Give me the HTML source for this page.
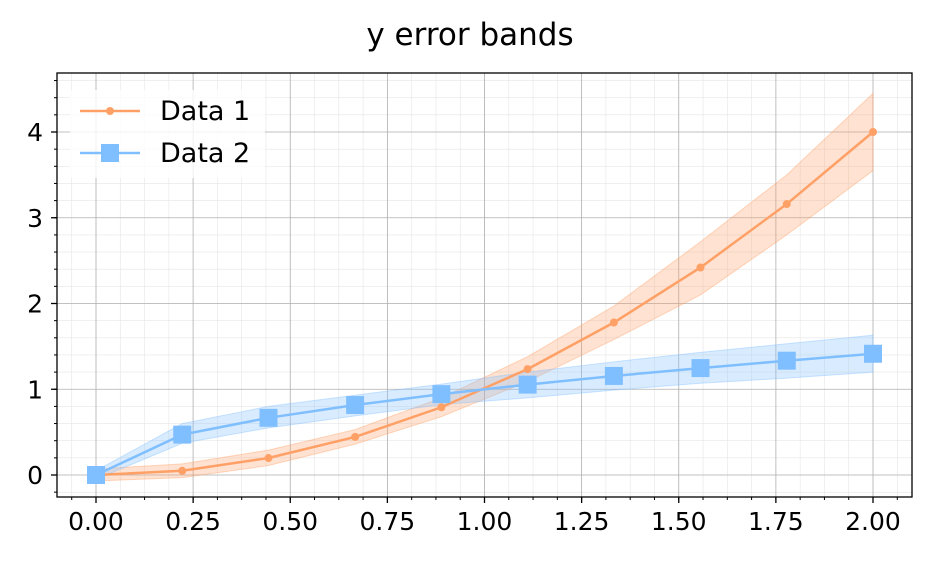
<!DOCTYPE html>
<html><head><meta charset="utf-8"><style>
body{margin:0;background:#fff;}
svg{display:block;font-family:"DejaVu Sans","Liberation Sans",sans-serif;}
</style></head><body>
<svg id="chart" width="935" height="566">
<text x="470" y="45" text-anchor="middle" font-size="31" fill="#000">y error bands</text>
<g id="grid"></g><g id="bands"></g><g id="lines"></g><g id="axes"></g>
<g id="legend">
<rect x="70" y="90" width="195" height="88" fill="#fff" opacity="0.8" rx="3"/>
<g>
<line x1="80" y1="111" x2="140" y2="111" stroke="#ffa066" stroke-width="2.5"/><circle cx="110" cy="111" r="4" fill="#ffa066"/>
<text x="160" y="120" font-size="27">Data 1</text></g>
<g>
<line x1="80" y1="153" x2="140" y2="153" stroke="#80bfff" stroke-width="2.5"/><rect x="101" y="144" width="18" height="18" fill="#80bfff"/>
<text x="160" y="162" font-size="27">Data 2</text></g>
</g>
</svg>
<script>
const xs=[0,0.222,0.444,0.667,0.889,1.111,1.333,1.556,1.778,2.0];
const data1=[0,0.049,0.198,0.444,0.790,1.235,1.778,2.420,3.160,4.0];
const data1Lo=[-0.07,-0.03,0.11,0.36,0.68,1.09,1.58,2.10,2.80,3.55];
const data1Hi=[0.07,0.13,0.29,0.53,0.90,1.38,1.97,2.72,3.50,4.45];
const data2=[0,0.471,0.667,0.816,0.943,1.054,1.155,1.247,1.333,1.414];
const data2Lo=[-0.05,0.37,0.55,0.69,0.82,0.90,0.99,1.07,1.13,1.20];
const data2Hi=[0.05,0.60,0.80,0.93,1.06,1.20,1.32,1.43,1.53,1.63];
const xTicks=[0,0.25,0.5,0.75,1,1.25,1.5,1.75,2];
const xTickLabels=["0.00","0.25","0.50","0.75","1.00","1.25","1.50","1.75","2.00"];
const yTicks=[0,1,2,3,4];
const yTickLabels=["0","1","2","3","4"];
const L=57,T=73,R=912,B=497;
const X=v=>96+v*388.5, Y=v=>475-v*85.75;
const NS="http://www.w3.org/2000/svg";
function mk(p,t,a){const e=document.createElementNS(NS,t);for(const k in a)e.setAttribute(k,a[k]);document.getElementById(p).appendChild(e);return e;}
for(let v=-0.0625;v<=2.1;v+=0.0625){const x=X(v);if(x<L||x>R)continue;
const g=mk('grid','line',{x1:x,x2:x,y1:T,y2:B,stroke:'#e6e6e6','stroke-width':0.6});


const tk=mk('axes','line',{x1:x,x2:x,y1:B,y2:B+3,stroke:'#000','stroke-width':1});

}
for(let v=-0.2;v<=4.7;v+=0.2){const y=Y(v);if(y<T||y>B)continue;
const g=mk('grid','line',{x1:L,x2:R,y1:y,y2:y,stroke:'#e6e6e6','stroke-width':0.6});


const tk=mk('axes','line',{x1:L-3,x2:L,y1:y,y2:y,stroke:'#000','stroke-width':1});

}
xTicks.forEach((v,i)=>{const x=X(v);
const g=mk('grid','line',{x1:x,x2:x,y1:T,y2:B,stroke:'#b0b0b0','stroke-width':0.8});


const tk=mk('axes','line',{x1:x,x2:x,y1:B,y2:B+6,stroke:'#000','stroke-width':1.3});


const t=mk('axes','text',{x:x,y:B+33,'text-anchor':'middle','font-size':25});t.textContent=xTickLabels[i];

});
yTicks.forEach((v,i)=>{const y=Y(v);
const g=mk('grid','line',{x1:L,x2:R,y1:y,y2:y,stroke:'#b0b0b0','stroke-width':0.8});


const tk=mk('axes','line',{x1:L-6,x2:L,y1:y,y2:y,stroke:'#000','stroke-width':1.3});


const t=mk('axes','text',{x:L-14,y:y+9,'text-anchor':'end','font-size':25});t.textContent=yTickLabels[i];

});
const frame=mk('axes','rect',{x:L,y:T,width:R-L,height:B-T,fill:'none',stroke:'#000','stroke-width':1.3});


function band(lo,hi,col,name){const pts=xs.map((x,i)=>X(x)+','+Y(hi[i])).concat(xs.map((x,i)=>X(x)+','+Y(lo[i])).reverse());
const p=mk('bands','polygon',{points:pts.join(' '),fill:col,'fill-opacity':0.3,stroke:col,'stroke-opacity':0.4,'stroke-width':1});

}
band(data1Lo,data1Hi,'#ffa066','data-1-error-band');
band(data2Lo,data2Hi,'#80bfff','data-2-error-band');
function line(ys,col,name){const l=mk('lines','polyline',{points:xs.map((x,i)=>X(x)+','+Y(ys[i])).join(' '),fill:'none',stroke:col,'stroke-width':2.5});

}
line(data1,'#ffa066','data-1');line(data2,'#80bfff','data-2');
xs.forEach((x,i)=>{const c=mk('lines','circle',{cx:X(x),cy:Y(data1[i]),r:4,fill:'#ffa066'});


const s=mk('lines','rect',{x:X(x)-9,y:Y(data2[i])-9,width:18,height:18,fill:'#80bfff'});

});
</script>
</body></html>
